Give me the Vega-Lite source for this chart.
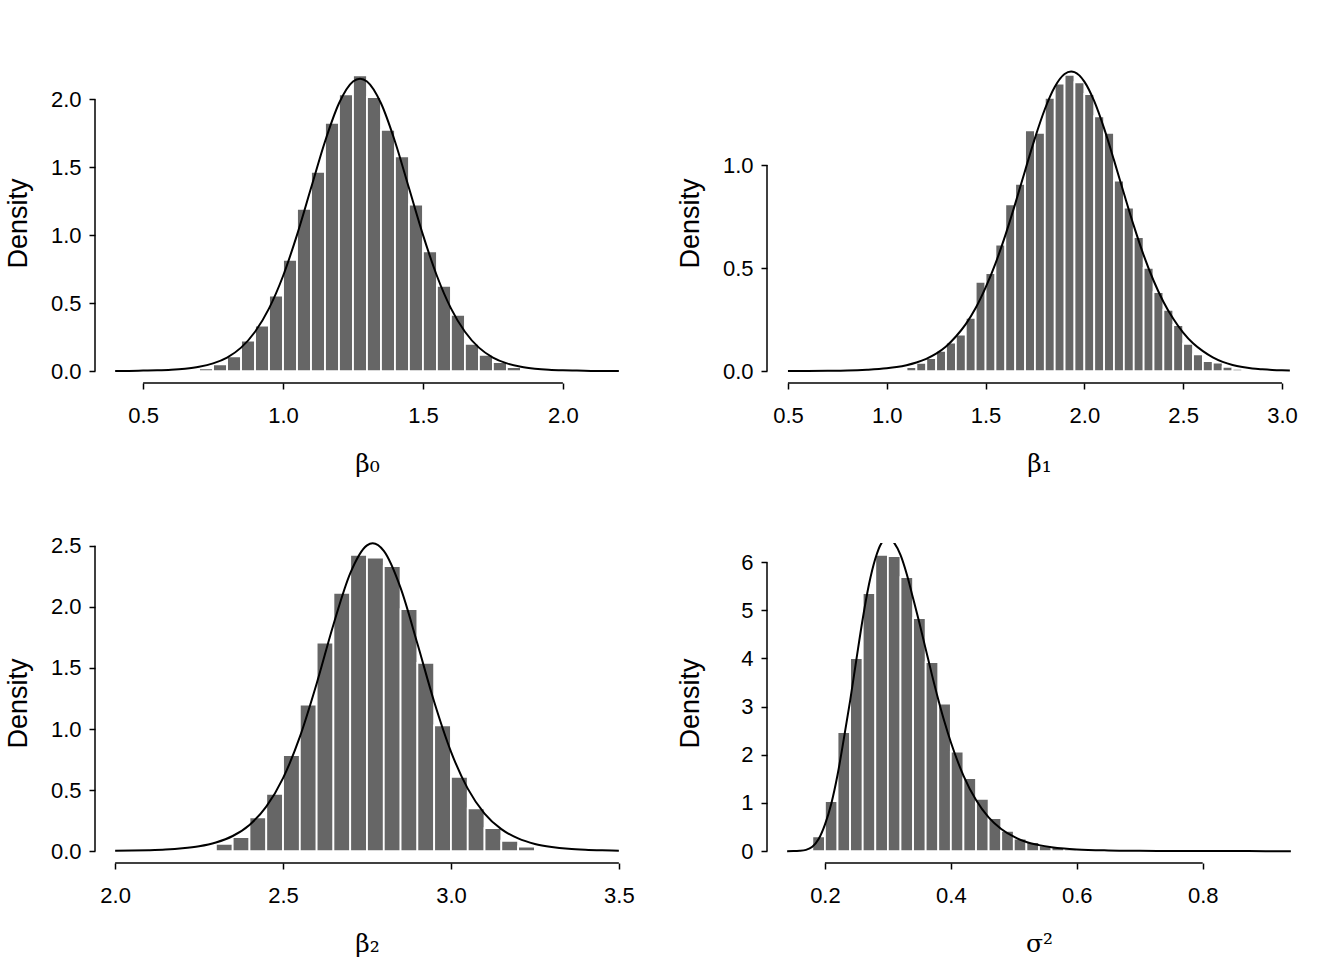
{
  "$schema": "https://vega.github.io/schema/vega-lite/v6.json",
  "background": "white",
  "padding": {"left": 4, "top": 63, "right": 33, "bottom": 4},
  "bounds": "flush",
  "columns": 2,
  "spacing": {"row": 160, "column": 128},
  "datasets": {
    "h1": [
      {"x": 0.70, "x2": 0.75, "y": 0.02}, {"x": 0.75, "x2": 0.80, "y": 0.05}, {"x": 0.80, "x2": 0.85, "y": 0.108},
      {"x": 0.85, "x2": 0.90, "y": 0.225}, {"x": 0.90, "x2": 0.95, "y": 0.335}, {"x": 0.95, "x2": 1.00, "y": 0.556},
      {"x": 1.00, "x2": 1.05, "y": 0.818}, {"x": 1.05, "x2": 1.10, "y": 1.195}, {"x": 1.10, "x2": 1.15, "y": 1.466},
      {"x": 1.15, "x2": 1.20, "y": 1.826}, {"x": 1.20, "x2": 1.25, "y": 2.037}, {"x": 1.25, "x2": 1.30, "y": 2.176},
      {"x": 1.30, "x2": 1.35, "y": 2.017}, {"x": 1.35, "x2": 1.40, "y": 1.775}, {"x": 1.40, "x2": 1.45, "y": 1.581},
      {"x": 1.45, "x2": 1.50, "y": 1.226}, {"x": 1.50, "x2": 1.55, "y": 0.881}, {"x": 1.55, "x2": 1.60, "y": 0.627},
      {"x": 1.60, "x2": 1.65, "y": 0.414}, {"x": 1.65, "x2": 1.70, "y": 0.200}, {"x": 1.70, "x2": 1.75, "y": 0.120},
      {"x": 1.75, "x2": 1.80, "y": 0.066}, {"x": 1.80, "x2": 1.85, "y": 0.030}, {"x": 1.85, "x2": 1.90, "y": 0.010}
    ],
    "c1": [
      {"x": 0.40, "y": 0.0014}, {"x": 0.45, "y": 0.002}, {"x": 0.50, "y": 0.004}, {"x": 0.55, "y": 0.006},
      {"x": 0.60, "y": 0.010}, {"x": 0.65, "y": 0.018}, {"x": 0.70, "y": 0.032}, {"x": 0.75, "y": 0.057},
      {"x": 0.80, "y": 0.100}, {"x": 0.85, "y": 0.173}, {"x": 0.90, "y": 0.290}, {"x": 0.95, "y": 0.462},
      {"x": 1.00, "y": 0.700}, {"x": 1.05, "y": 1.003}, {"x": 1.10, "y": 1.347}, {"x": 1.15, "y": 1.690},
      {"x": 1.20, "y": 1.971}, {"x": 1.25, "y": 2.131}, {"x": 1.275, "y": 2.152}, {"x": 1.30, "y": 2.131},
      {"x": 1.35, "y": 1.971}, {"x": 1.40, "y": 1.690}, {"x": 1.45, "y": 1.347}, {"x": 1.50, "y": 1.003},
      {"x": 1.55, "y": 0.700}, {"x": 1.60, "y": 0.462}, {"x": 1.65, "y": 0.290}, {"x": 1.70, "y": 0.173},
      {"x": 1.75, "y": 0.100}, {"x": 1.80, "y": 0.057}, {"x": 1.85, "y": 0.032}, {"x": 1.90, "y": 0.018},
      {"x": 1.95, "y": 0.010}, {"x": 2.00, "y": 0.006}, {"x": 2.05, "y": 0.004}, {"x": 2.10, "y": 0.002},
      {"x": 2.15, "y": 0.0014}, {"x": 2.20, "y": 0.001}
    ],
    "h2": [
      {"x": 1.10, "x2": 1.15, "y": 0.020}, {"x": 1.15, "x2": 1.20, "y": 0.040}, {"x": 1.20, "x2": 1.25, "y": 0.063},
      {"x": 1.25, "x2": 1.30, "y": 0.099}, {"x": 1.30, "x2": 1.35, "y": 0.138}, {"x": 1.35, "x2": 1.40, "y": 0.177},
      {"x": 1.40, "x2": 1.45, "y": 0.259}, {"x": 1.45, "x2": 1.50, "y": 0.433}, {"x": 1.50, "x2": 1.55, "y": 0.476},
      {"x": 1.55, "x2": 1.60, "y": 0.614}, {"x": 1.60, "x2": 1.65, "y": 0.810}, {"x": 1.65, "x2": 1.70, "y": 0.909},
      {"x": 1.70, "x2": 1.75, "y": 1.169}, {"x": 1.75, "x2": 1.80, "y": 1.157}, {"x": 1.80, "x2": 1.85, "y": 1.326},
      {"x": 1.85, "x2": 1.90, "y": 1.395}, {"x": 1.90, "x2": 1.95, "y": 1.438}, {"x": 1.95, "x2": 2.00, "y": 1.402},
      {"x": 2.00, "x2": 2.05, "y": 1.345}, {"x": 2.05, "x2": 2.10, "y": 1.237}, {"x": 2.10, "x2": 2.15, "y": 1.157},
      {"x": 2.15, "x2": 2.20, "y": 0.925}, {"x": 2.20, "x2": 2.25, "y": 0.794}, {"x": 2.25, "x2": 2.30, "y": 0.650},
      {"x": 2.30, "x2": 2.35, "y": 0.501}, {"x": 2.35, "x2": 2.40, "y": 0.384}, {"x": 2.40, "x2": 2.45, "y": 0.298},
      {"x": 2.45, "x2": 2.50, "y": 0.224}, {"x": 2.50, "x2": 2.55, "y": 0.133}, {"x": 2.55, "x2": 2.60, "y": 0.081},
      {"x": 2.60, "x2": 2.65, "y": 0.049}, {"x": 2.65, "x2": 2.70, "y": 0.041}, {"x": 2.70, "x2": 2.75, "y": 0.021},
      {"x": 2.75, "x2": 2.80, "y": 0.011}, {"x": 2.80, "x2": 2.85, "y": 0.005}
    ],
    "c2": [
      {"x": 0.50, "y": 0.0005}, {"x": 0.60, "y": 0.0008}, {"x": 0.70, "y": 0.0015}, {"x": 0.80, "y": 0.003},
      {"x": 0.90, "y": 0.007}, {"x": 1.00, "y": 0.014}, {"x": 1.05, "y": 0.020}, {"x": 1.10, "y": 0.029},
      {"x": 1.15, "y": 0.042}, {"x": 1.20, "y": 0.060}, {"x": 1.25, "y": 0.085}, {"x": 1.30, "y": 0.120},
      {"x": 1.35, "y": 0.168}, {"x": 1.40, "y": 0.228}, {"x": 1.45, "y": 0.306}, {"x": 1.50, "y": 0.405},
      {"x": 1.55, "y": 0.522}, {"x": 1.60, "y": 0.659}, {"x": 1.65, "y": 0.812}, {"x": 1.70, "y": 0.973},
      {"x": 1.75, "y": 1.131}, {"x": 1.80, "y": 1.271}, {"x": 1.85, "y": 1.379}, {"x": 1.90, "y": 1.442},
      {"x": 1.933, "y": 1.454}, {"x": 1.95, "y": 1.451}, {"x": 2.00, "y": 1.405}, {"x": 2.05, "y": 1.310},
      {"x": 2.10, "y": 1.178}, {"x": 2.15, "y": 1.024}, {"x": 2.20, "y": 0.863}, {"x": 2.25, "y": 0.706},
      {"x": 2.30, "y": 0.563}, {"x": 2.35, "y": 0.440}, {"x": 2.40, "y": 0.337}, {"x": 2.45, "y": 0.254},
      {"x": 2.50, "y": 0.187}, {"x": 2.55, "y": 0.135}, {"x": 2.60, "y": 0.097}, {"x": 2.65, "y": 0.067},
      {"x": 2.70, "y": 0.045}, {"x": 2.75, "y": 0.030}, {"x": 2.80, "y": 0.020}, {"x": 2.85, "y": 0.013},
      {"x": 2.90, "y": 0.009}, {"x": 2.95, "y": 0.006}, {"x": 3.00, "y": 0.004}, {"x": 3.04, "y": 0.003}
    ],
    "h3": [
      {"x": 2.30, "x2": 2.35, "y": 0.060}, {"x": 2.35, "x2": 2.40, "y": 0.115}, {"x": 2.40, "x2": 2.45, "y": 0.276},
      {"x": 2.45, "x2": 2.50, "y": 0.470}, {"x": 2.50, "x2": 2.55, "y": 0.787}, {"x": 2.55, "x2": 2.60, "y": 1.200},
      {"x": 2.60, "x2": 2.65, "y": 1.708}, {"x": 2.65, "x2": 2.70, "y": 2.115}, {"x": 2.70, "x2": 2.75, "y": 2.426},
      {"x": 2.75, "x2": 2.80, "y": 2.404}, {"x": 2.80, "x2": 2.85, "y": 2.333}, {"x": 2.85, "x2": 2.90, "y": 1.981},
      {"x": 2.90, "x2": 2.95, "y": 1.541}, {"x": 2.95, "x2": 3.00, "y": 1.030}, {"x": 3.00, "x2": 3.05, "y": 0.609},
      {"x": 3.05, "x2": 3.10, "y": 0.350}, {"x": 3.10, "x2": 3.15, "y": 0.189}, {"x": 3.15, "x2": 3.20, "y": 0.085},
      {"x": 3.20, "x2": 3.25, "y": 0.038}, {"x": 3.25, "x2": 3.30, "y": 0.010}
    ],
    "c3": [
      {"x": 2.00, "y": 0.003}, {"x": 2.05, "y": 0.0045}, {"x": 2.10, "y": 0.0077}, {"x": 2.15, "y": 0.013},
      {"x": 2.20, "y": 0.023}, {"x": 2.25, "y": 0.040}, {"x": 2.30, "y": 0.071}, {"x": 2.35, "y": 0.124},
      {"x": 2.40, "y": 0.215}, {"x": 2.45, "y": 0.364}, {"x": 2.50, "y": 0.598}, {"x": 2.55, "y": 0.935},
      {"x": 2.60, "y": 1.371}, {"x": 2.65, "y": 1.854}, {"x": 2.70, "y": 2.274}, {"x": 2.75, "y": 2.503},
      {"x": 2.767, "y": 2.520}, {"x": 2.80, "y": 2.458}, {"x": 2.85, "y": 2.155}, {"x": 2.90, "y": 1.700},
      {"x": 2.95, "y": 1.223}, {"x": 3.00, "y": 0.815}, {"x": 3.05, "y": 0.512}, {"x": 3.10, "y": 0.308},
      {"x": 3.15, "y": 0.180}, {"x": 3.20, "y": 0.104}, {"x": 3.25, "y": 0.059}, {"x": 3.30, "y": 0.034},
      {"x": 3.35, "y": 0.019}, {"x": 3.40, "y": 0.011}, {"x": 3.45, "y": 0.0065}, {"x": 3.50, "y": 0.0038}
    ],
    "h4": [
      {"x": 0.18, "x2": 0.20, "y": 0.305}, {"x": 0.20, "x2": 0.22, "y": 1.038}, {"x": 0.22, "x2": 0.24, "y": 2.470},
      {"x": 0.24, "x2": 0.26, "y": 4.007}, {"x": 0.26, "x2": 0.28, "y": 5.356}, {"x": 0.28, "x2": 0.30, "y": 6.152},
      {"x": 0.30, "x2": 0.32, "y": 6.125}, {"x": 0.32, "x2": 0.34, "y": 5.689}, {"x": 0.34, "x2": 0.36, "y": 4.837},
      {"x": 0.36, "x2": 0.38, "y": 3.924}, {"x": 0.38, "x2": 0.40, "y": 3.066}, {"x": 0.40, "x2": 0.42, "y": 2.069},
      {"x": 0.42, "x2": 0.44, "y": 1.516}, {"x": 0.44, "x2": 0.46, "y": 1.087}, {"x": 0.46, "x2": 0.48, "y": 0.685},
      {"x": 0.48, "x2": 0.50, "y": 0.422}, {"x": 0.50, "x2": 0.52, "y": 0.263}, {"x": 0.52, "x2": 0.54, "y": 0.187},
      {"x": 0.54, "x2": 0.56, "y": 0.118}, {"x": 0.56, "x2": 0.58, "y": 0.083}, {"x": 0.58, "x2": 0.60, "y": 0.050},
      {"x": 0.60, "x2": 0.62, "y": 0.030}, {"x": 0.62, "x2": 0.64, "y": 0.015}, {"x": 0.64, "x2": 0.66, "y": 0.010}
    ],
    "c4": [
      {"x": 0.14, "y": 0.0002}, {"x": 0.15, "y": 0.0012}, {"x": 0.16, "y": 0.0066}, {"x": 0.17, "y": 0.026},
      {"x": 0.18, "y": 0.090}, {"x": 0.19, "y": 0.250}, {"x": 0.20, "y": 0.550}, {"x": 0.21, "y": 0.980},
      {"x": 0.22, "y": 1.580}, {"x": 0.23, "y": 2.330}, {"x": 0.24, "y": 3.120}, {"x": 0.25, "y": 3.980},
      {"x": 0.26, "y": 4.820}, {"x": 0.27, "y": 5.540}, {"x": 0.28, "y": 6.070}, {"x": 0.29, "y": 6.400},
      {"x": 0.30, "y": 6.500}, {"x": 0.31, "y": 6.400}, {"x": 0.32, "y": 6.150}, {"x": 0.33, "y": 5.750},
      {"x": 0.34, "y": 5.250}, {"x": 0.35, "y": 4.740}, {"x": 0.36, "y": 4.200}, {"x": 0.37, "y": 3.660},
      {"x": 0.38, "y": 3.150}, {"x": 0.39, "y": 2.680}, {"x": 0.40, "y": 2.260}, {"x": 0.42, "y": 1.570},
      {"x": 0.44, "y": 1.060}, {"x": 0.46, "y": 0.700}, {"x": 0.48, "y": 0.460}, {"x": 0.50, "y": 0.300},
      {"x": 0.52, "y": 0.190}, {"x": 0.54, "y": 0.125}, {"x": 0.56, "y": 0.082}, {"x": 0.58, "y": 0.054},
      {"x": 0.60, "y": 0.036}, {"x": 0.65, "y": 0.015}, {"x": 0.70, "y": 0.007}, {"x": 0.75, "y": 0.0035},
      {"x": 0.80, "y": 0.002}, {"x": 0.85, "y": 0.001}, {"x": 0.90, "y": 0.0005}, {"x": 0.94, "y": 0.0003}
    ],
    "one": [{"k": 1}]
  },
  "concat": [
    {
      "width": 544, "height": 320,
      "layer": [
        {"data": {"name": "h1"}, "mark": {"type": "rect", "fill": "#666666", "stroke": "white", "strokeWidth": 1.8},
         "encoding": {
           "x": {"field": "x", "type": "quantitative", "scale": {"domain": [0.328, 2.272], "nice": false, "zero": false},
                 "axis": {"values": [0.5, 1, 1.5, 2], "format": ".1f", "title": "β₀"}},
           "x2": {"field": "x2"},
           "y": {"field": "y", "type": "quantitative", "scale": {"domain": [-0.0872, 2.2672], "nice": false, "zero": false},
                 "axis": {"values": [0, 0.5, 1, 1.5, 2], "format": ".1f", "title": "Density"}},
           "y2": {"datum": 0}}},
        {"data": {"name": "c1"}, "mark": {"type": "line", "color": "black", "strokeWidth": 2, "interpolate": "monotone"},
         "encoding": {"x": {"field": "x", "type": "quantitative", "title": "β₀"}, "y": {"field": "y", "type": "quantitative", "title": "Density"}}},
        {"data": {"name": "one"}, "mark": {"type": "rule", "color": "black", "strokeWidth": 1.5, "clip": false},
         "encoding": {"x": {"datum": 0.5, "type": "quantitative", "title": "β₀"}, "x2": {"datum": 2.0}, "y": {"datum": -0.0872, "type": "quantitative", "title": "Density"}}},
        {"data": {"name": "one"}, "mark": {"type": "rule", "color": "black", "strokeWidth": 1.5, "clip": false},
         "encoding": {"x": {"datum": 0.328, "type": "quantitative", "title": "β₀"}, "y": {"datum": 0, "type": "quantitative", "title": "Density"}, "y2": {"datum": 2.0}}}
      ]
    },
    {
      "width": 544, "height": 320,
      "layer": [
        {"data": {"name": "h2"}, "mark": {"type": "rect", "fill": "#666666", "stroke": "white", "strokeWidth": 1.8},
         "encoding": {
           "x": {"field": "x", "type": "quantitative", "scale": {"domain": [0.394, 3.147], "nice": false, "zero": false},
                 "axis": {"values": [0.5, 1, 1.5, 2, 2.5, 3], "format": ".1f", "title": "β₁"}},
           "x2": {"field": "x2"},
           "y": {"field": "y", "type": "quantitative", "scale": {"domain": [-0.0575, 1.4955], "nice": false, "zero": false},
                 "axis": {"values": [0, 0.5, 1], "format": ".1f", "title": "Density"}},
           "y2": {"datum": 0}}},
        {"data": {"name": "c2"}, "mark": {"type": "line", "color": "black", "strokeWidth": 2, "interpolate": "monotone"},
         "encoding": {"x": {"field": "x", "type": "quantitative", "title": "β₁"}, "y": {"field": "y", "type": "quantitative", "title": "Density"}}},
        {"data": {"name": "one"}, "mark": {"type": "rule", "color": "black", "strokeWidth": 1.5, "clip": false},
         "encoding": {"x": {"datum": 0.5, "type": "quantitative", "title": "β₁"}, "x2": {"datum": 3.0}, "y": {"datum": -0.0575, "type": "quantitative", "title": "Density"}}},
        {"data": {"name": "one"}, "mark": {"type": "rule", "color": "black", "strokeWidth": 1.5, "clip": false},
         "encoding": {"x": {"datum": 0.394, "type": "quantitative", "title": "β₁"}, "y": {"datum": 0, "type": "quantitative", "title": "Density"}, "y2": {"datum": 1.0}}}
      ]
    },
    {
      "width": 544, "height": 320,
      "layer": [
        {"data": {"name": "h3"}, "mark": {"type": "rect", "fill": "#666666", "stroke": "white", "strokeWidth": 1.8},
         "encoding": {
           "x": {"field": "x", "type": "quantitative", "scale": {"domain": [1.94, 3.56], "nice": false, "zero": false},
                 "axis": {"values": [2, 2.5, 3, 3.5], "format": ".1f", "title": "β₂"}},
           "x2": {"field": "x2"},
           "y": {"field": "y", "type": "quantitative", "scale": {"domain": [-0.097, 2.523], "nice": false, "zero": false},
                 "axis": {"values": [0, 0.5, 1, 1.5, 2, 2.5], "format": ".1f", "title": "Density"}},
           "y2": {"datum": 0}}},
        {"data": {"name": "c3"}, "mark": {"type": "line", "color": "black", "strokeWidth": 2, "interpolate": "monotone"},
         "encoding": {"x": {"field": "x", "type": "quantitative", "title": "β₂"}, "y": {"field": "y", "type": "quantitative", "title": "Density"}}},
        {"data": {"name": "one"}, "mark": {"type": "rule", "color": "black", "strokeWidth": 1.5, "clip": false},
         "encoding": {"x": {"datum": 2.0, "type": "quantitative", "title": "β₂"}, "x2": {"datum": 3.5}, "y": {"datum": -0.097, "type": "quantitative", "title": "Density"}}},
        {"data": {"name": "one"}, "mark": {"type": "rule", "color": "black", "strokeWidth": 1.5, "clip": false},
         "encoding": {"x": {"datum": 1.94, "type": "quantitative", "title": "β₂"}, "y": {"datum": 0, "type": "quantitative", "title": "Density"}, "y2": {"datum": 2.5}}}
      ]
    },
    {
      "width": 544, "height": 320,
      "layer": [
        {"data": {"name": "h4"}, "mark": {"type": "rect", "fill": "#666666", "stroke": "white", "strokeWidth": 1.8},
         "encoding": {
           "x": {"field": "x", "type": "quantitative", "scale": {"domain": [0.108, 0.972], "nice": false, "zero": false},
                 "axis": {"values": [0.2, 0.4, 0.6, 0.8], "format": ".1f", "title": "σ²"}},
           "x2": {"field": "x2"},
           "y": {"field": "y", "type": "quantitative", "scale": {"domain": [-0.246, 6.398], "nice": false, "zero": false},
                 "axis": {"values": [0, 1, 2, 3, 4, 5, 6], "format": "d", "title": "Density"}},
           "y2": {"datum": 0}}},
        {"data": {"name": "c4"}, "mark": {"type": "line", "color": "black", "strokeWidth": 2, "interpolate": "monotone", "clip": true},
         "encoding": {"x": {"field": "x", "type": "quantitative", "title": "σ²"}, "y": {"field": "y", "type": "quantitative", "title": "Density"}}},
        {"data": {"name": "one"}, "mark": {"type": "rule", "color": "black", "strokeWidth": 1.5, "clip": false},
         "encoding": {"x": {"datum": 0.2, "type": "quantitative", "title": "σ²"}, "x2": {"datum": 0.8}, "y": {"datum": -0.246, "type": "quantitative", "title": "Density"}}},
        {"data": {"name": "one"}, "mark": {"type": "rule", "color": "black", "strokeWidth": 1.5, "clip": false},
         "encoding": {"x": {"datum": 0.108, "type": "quantitative", "title": "σ²"}, "y": {"datum": 0, "type": "quantitative", "title": "Density"}, "y2": {"datum": 6}}}
      ]
    }
  ],
  "config": {
    "view": {"stroke": null},
    "axis": {
      "domain": false, "grid": false, "ticks": true, "tickSize": 6, "tickColor": "black", "tickWidth": 1.5,
      "labelFont": "Liberation Sans", "labelFontSize": 22, "labelColor": "black",
      "labelFlush": false, "labelOverlap": false, "labelBound": false,
      "titleColor": "black", "titleFontWeight": "normal"
    },
    "axisX": {"labelPadding": 16, "titleY": 88, "titleBaseline": "alphabetic", "titleFont": "DejaVu Serif", "titleFontSize": 25},
    "axisY": {"labelPadding": 8, "titleX": -69, "titleBaseline": "alphabetic", "titleFont": "Liberation Sans", "titleFontSize": 27}
  }
}
